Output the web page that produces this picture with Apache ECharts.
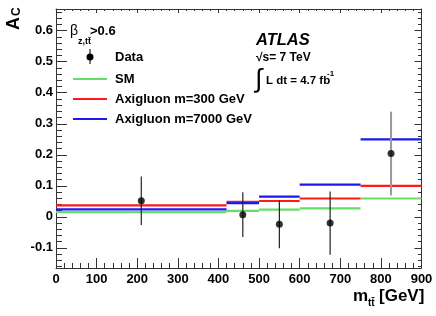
<!DOCTYPE html>
<html><head><meta charset="utf-8">
<script src="https://cdn.jsdelivr.net/npm/echarts@6/dist/echarts.min.js"></script>
<style>html,body{margin:0;padding:0;background:#fff}#c{width:436px;height:316px}</style>
</head><body><div id="c"></div>
<script>
const binEdges = [0, 420, 500, 600, 750, 900];
const smValues = [0.015, 0.019, 0.023, 0.027, 0.059];
const axi300Values = [0.037, 0.048, 0.051, 0.059, 0.100];
const axi7000Values = [0.024, 0.044, 0.065, 0.104, 0.250];
const dataX = [210, 460, 550, 675, 825];
const dataY = [0.052, 0.007, -0.024, -0.020, 0.204];
const dataErr = [0.078, 0.072, 0.077, 0.102, 0.135];
const yTicks = [-0.1, 0, 0.1, 0.2, 0.3, 0.4, 0.5, 0.6];
const yMinor = [];
for (let i = -8; i <= 33; i++) { if (i % 5 !== 0) yMinor.push(+(i * 0.02).toFixed(2)); }

const FONT = '"Liberation Sans", Arial, sans-serif';
const AX = '#333';

function stepData(vals) {
  return vals.map((v, i) => [binEdges[i], binEdges[i + 1], v]);
}
function stepSeries(vals, color) {
  return {
    type: 'custom', xAxisIndex: 0, yAxisIndex: 0, clip: true,
    data: stepData(vals), encode: { x: [0, 1], y: 2 },
    renderItem: (params, api) => {
      const a = api.coord([api.value(0), api.value(2)]);
      const b = api.coord([api.value(1), api.value(2)]);
      return { type: 'line', shape: { x1: a[0], y1: a[1], x2: b[0], y2: b[1] },
        style: { stroke: color, lineWidth: 2.2 } };
    }
  };
}
const errData = dataX.map((x, i) => [x, dataY[i] - dataErr[i], dataY[i] + dataErr[i], i]);

const chart = echarts.init(document.getElementById('c'), null, { renderer: 'canvas' });
const yBase = { type: 'value', min: -0.165, max: 0.67, splitLine: { show: false } };
chart.setOption({
  animation: false,
  grid: { left: 56, right: 14.5, top: 9, bottom: 48 },
  xAxis: [
    { type: 'value', min: 0, max: 900, interval: 100, position: 'bottom',
      axisLine: { onZero: false, lineStyle: { color: AX, width: 1 } },
      axisTick: { inside: true, length: 10, lineStyle: { color: AX } },
      minorTick: { show: true, splitNumber: 5, length: 5, lineStyle: { color: AX } },
      axisLabel: { color: '#000', fontFamily: FONT, fontWeight: 'bold', fontSize: 13, margin: 5 },
      splitLine: { show: false } },
    { type: 'value', min: 0, max: 900, interval: 100, position: 'top',
      axisLine: { onZero: false, lineStyle: { color: AX, width: 1 } },
      axisTick: { inside: true, length: 4, lineStyle: { color: AX } },
      minorTick: { show: true, splitNumber: 5, length: 2, lineStyle: { color: AX } },
      axisLabel: { show: false }, splitLine: { show: false } }
  ],
  yAxis: [
    Object.assign({}, yBase, { position: 'left',
      axisLine: { show: true, onZero: false, lineStyle: { color: AX, width: 1 } },
      axisTick: { inside: true, length: 11, customValues: yTicks, lineStyle: { color: AX } },
      axisLabel: { customValues: yTicks, color: '#000', fontFamily: FONT, fontWeight: 'bold', fontSize: 13, margin: 3 } }),
    Object.assign({}, yBase, { position: 'left',
      axisLine: { show: false, onZero: false },
      axisTick: { inside: true, length: 6, customValues: yMinor, lineStyle: { color: AX } },
      axisLabel: { show: false } }),
    Object.assign({}, yBase, { position: 'right',
      axisLine: { show: true, onZero: false, lineStyle: { color: AX, width: 1 } },
      axisTick: { inside: true, length: 7, customValues: yTicks, lineStyle: { color: AX } },
      axisLabel: { show: false } }),
    Object.assign({}, yBase, { position: 'right',
      axisLine: { show: false, onZero: false },
      axisTick: { inside: true, length: 3.5, customValues: yMinor, lineStyle: { color: AX } },
      axisLabel: { show: false } })
  ],
  series: [
    stepSeries(smValues, '#66dd66'),
    stepSeries(axi300Values, '#ff1a1a'),
    stepSeries(axi7000Values, '#1a1aee'),
    { type: 'custom', xAxisIndex: 0, yAxisIndex: 0, data: errData, encode: { x: 0, y: [1, 2] },
      renderItem: (params, api) => {
        const a = api.coord([api.value(0), api.value(1)]);
        const b = api.coord([api.value(0), api.value(2)]);
        const last = api.value(3) === dataX.length - 1;
        return { type: 'line', shape: { x1: a[0], y1: a[1], x2: b[0], y2: b[1] },
          style: { stroke: last ? '#999' : '#222', lineWidth: last ? 2 : 1.2 } };
      } },
    { type: 'scatter', xAxisIndex: 0, yAxisIndex: 0, symbol: 'circle', symbolSize: 7,
      itemStyle: { color: '#000' }, data: dataX.map((x, i) => [x, dataY[i]]) }
  ],
  graphic: [
    { type: 'text', x: 5, y: 30, rotation: Math.PI / 2,
      style: { text: 'A', font: 'bold 18px ' + FONT, fill: '#000', textVerticalAlign: 'top' } },
    { type: 'text', x: 11, y: 16, rotation: Math.PI / 2,
      style: { text: 'C', font: 'bold 12px ' + FONT, fill: '#000', textVerticalAlign: 'top' } },
    { type: 'text', x: 70, y: 31, style: { text: 'β', font: '14px ' + FONT, fill: '#000', textVerticalAlign: 'middle' } },
    { type: 'text', x: 78, y: 42, style: { text: 'z,tt\u0304', font: 'bold 9px ' + FONT, fill: '#000', textVerticalAlign: 'middle' } },
    { type: 'text', x: 90, y: 31, style: { text: '>0.6', font: 'bold 13px ' + FONT, fill: '#000', textVerticalAlign: 'middle' } },
    { type: 'line', shape: { x1: 90, y1: 49, x2: 90, y2: 64 }, style: { stroke: '#222', lineWidth: 1.2 } },
    { type: 'circle', shape: { cx: 90, cy: 57, r: 3.5 }, style: { fill: '#000' } },
    { type: 'text', x: 115, y: 57, style: { text: 'Data', font: 'bold 13px ' + FONT, fill: '#000', textVerticalAlign: 'middle' } },
    { type: 'line', shape: { x1: 73, y1: 79, x2: 107, y2: 79 }, style: { stroke: '#66dd66', lineWidth: 2.2 } },
    { type: 'text', x: 115, y: 79, style: { text: 'SM', font: 'bold 13px ' + FONT, fill: '#000', textVerticalAlign: 'middle' } },
    { type: 'line', shape: { x1: 73, y1: 99, x2: 107, y2: 99 }, style: { stroke: '#ff1a1a', lineWidth: 2.2 } },
    { type: 'text', x: 115, y: 99, style: { text: 'Axigluon m=300 GeV', font: 'bold 13px ' + FONT, fill: '#000', textVerticalAlign: 'middle' } },
    { type: 'line', shape: { x1: 73, y1: 119, x2: 107, y2: 119 }, style: { stroke: '#1a1aee', lineWidth: 2.2 } },
    { type: 'text', x: 115, y: 119, style: { text: 'Axigluon m=7000 GeV', font: 'bold 13px ' + FONT, fill: '#000', textVerticalAlign: 'middle' } },
    { type: 'text', x: 256, y: 40, style: { text: 'ATLAS', font: 'italic bold 16.5px ' + FONT, fill: '#000', textVerticalAlign: 'middle' } },
    { type: 'text', x: 256, y: 58, style: { text: '\u221As= 7 TeV', font: 'bold 12px ' + FONT, fill: '#000', textVerticalAlign: 'middle' } },
    { type: 'text', x: 255, y: 80, style: { text: '\u222B', font: '26px ' + FONT, fill: '#000', textVerticalAlign: 'middle' } },
    { type: 'text', x: 266, y: 81, style: { text: 'L dt = 4.7 fb', font: 'bold 11.5px ' + FONT, fill: '#000', textVerticalAlign: 'middle' } },
    { type: 'text', x: 327, y: 74, style: { text: '-1', font: 'bold 8px ' + FONT, fill: '#000', textVerticalAlign: 'middle' } },
    { type: 'text', x: 353, y: 296, style: { text: 'm', font: 'bold 17px ' + FONT, fill: '#000', textVerticalAlign: 'middle' } },
    { type: 'text', x: 368, y: 303, style: { text: 'tt\u0304', font: 'bold 10px ' + FONT, fill: '#000', textVerticalAlign: 'middle' } },
    { type: 'text', x: 379, y: 296, style: { text: '[GeV]', font: 'bold 17px ' + FONT, fill: '#000', textVerticalAlign: 'middle' } }
  ]
});
</script></body></html>
